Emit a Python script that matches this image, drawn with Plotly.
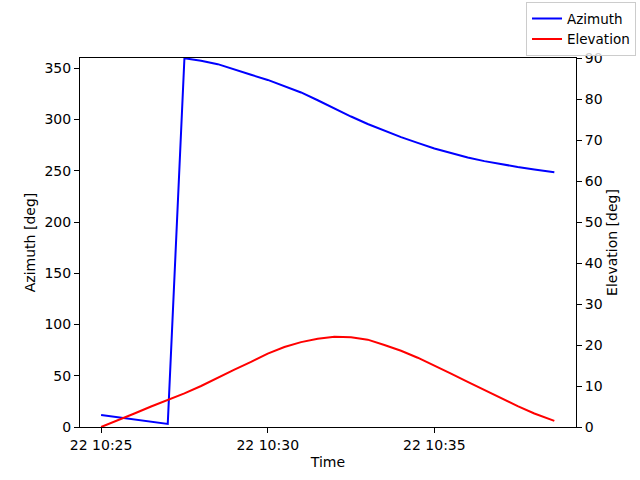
import plotly.graph_objects as go
import pandas as pd

# sample times (30 s steps, last sample at 10:38:36)
times = list(pd.date_range("2023-06-22 10:25:00", "2023-06-22 10:38:30", freq="30s")) + [pd.Timestamp("2023-06-22 10:38:36")]

azimuth = [11.7, 9.5, 7.5, 5.3, 3.0, 359.7, 357.4, 354.0, 348.5, 343.6,
           338.6, 332.8, 326.4, 318.8, 310.6, 302.9, 295.6, 289.0, 282.8, 277.2,
           271.7, 267.4, 262.9, 259.4, 256.2, 253.7, 251.3, 249.0, 248.5]

elevation = [0.0, 1.6, 3.3, 5.0, 6.6, 8.2, 10.0, 11.9, 14.0, 15.9,
             17.9, 19.5, 20.7, 21.5, 22.0, 21.9, 21.3, 20.0, 18.6, 16.9,
             15.0, 13.0, 11.0, 9.0, 7.0, 5.1, 3.3, 1.8, 1.5]

x_ticks = ["2023-06-22 10:25:00", "2023-06-22 10:30:00", "2023-06-22 10:35:00"]
x_labels = ["22 10:25", "22 10:30", "22 10:35"]
x_range = ["2023-06-22 10:24:22", "2023-06-22 10:39:15"]

font = "DejaVu Sans"
fs = 14
fig = go.Figure()
fig.add_trace(go.Scatter(x=times, y=azimuth, mode="lines", name="Azimuth",
                         line=dict(color="#0000ff", width=2)))
fig.add_trace(go.Scatter(x=times, y=elevation, mode="lines", name="Elevation",
                         yaxis="y2", line=dict(color="#ff0000", width=2)))

axis_common = dict(showgrid=False, zeroline=False, showline=True, linecolor="black",
                   linewidth=1, ticks="outside", ticklen=5, tickcolor="black",
                   automargin=False,
                   tickfont=dict(family=font, size=fs, color="black"))

fig.update_layout(
    width=640, height=480,
    margin=dict(l=80, r=64, t=58, b=53, autoexpand=False),
    plot_bgcolor="white", paper_bgcolor="white",
    showlegend=True,
    legend=dict(x=1.121, y=1.151, xanchor="right", yanchor="top",
                bordercolor="#cccccc", borderwidth=1, bgcolor="rgba(255,255,255,0.8)",
                tracegroupgap=0,
                font=dict(family=font, size=13.5, color="black")),
    xaxis=dict(type="date", range=x_range, tickvals=x_ticks, ticktext=x_labels,
               mirror=True,
               title=dict(text="Time", font=dict(family=font, size=fs, color="black"), standoff=5),
               **axis_common),
    yaxis=dict(range=[0, 360], tickvals=list(range(0, 351, 50)), mirror=True,
               title=dict(text="Azimuth [deg]", font=dict(family=font, size=fs, color="black"), standoff=5),
               **axis_common),
    yaxis2=dict(range=[0, 90], tickvals=list(range(0, 91, 10)), overlaying="y", side="right",
                title=dict(text="Elevation [deg]", font=dict(family=font, size=fs, color="black"), standoff=5),
                **axis_common),
)

fig.write_html("out.html", config={"displayModeBar": False},
               post_script="document.body.style.margin='0';")
